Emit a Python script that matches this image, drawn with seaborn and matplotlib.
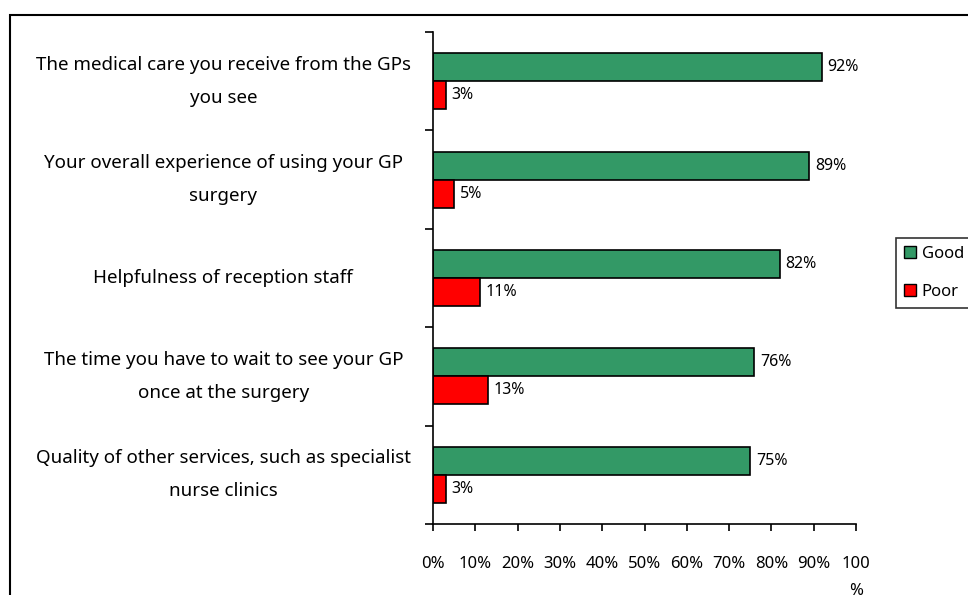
import pandas as pd
import matplotlib.pyplot as plt
import seaborn as sns
from matplotlib.patches import Rectangle

questions = [
    'The medical care you receive from the GPs\nyou see',
    'Your overall experience of using your GP\nsurgery',
    'Helpfulness of reception staff',
    'The time you have to wait to see your GP\nonce at the surgery',
    'Quality of other services, such as specialist\nnurse clinics',
]
good = [92, 89, 82, 76, 75]
poor = [3, 5, 11, 13, 3]
ratings = ['Good', 'Poor']
colours = ['#339966', '#ff0000']
xticks = [0, 10, 20, 30, 40, 50, 60, 70, 80, 90, 100]
xtick_labels = ['0%', '10%', '20%', '30%', '40%', '50%', '60%', '70%', '80%', '90%', '100\n%']

df = pd.DataFrame({
    'question': questions * 2,
    'rating': ['Good'] * len(questions) + ['Poor'] * len(questions),
    'value': good + poor,
})

sns.set_style('white')
plt.rcParams['font.family'] = ['Noto Sans', 'DejaVu Sans']
plt.rcParams['text.color'] = 'black'
plt.rcParams['xtick.color'] = 'black'
plt.rcParams['ytick.color'] = 'black'

fig = plt.figure(figsize=(9.68, 5.95), dpi=100)
ax = fig.add_axes([433 / 968, 1 - 524 / 595, 423 / 968, 492 / 595])

sns.barplot(data=df, y='question', x='value', hue='rating', hue_order=ratings,
            palette=colours, orient='h', width=0.57, order=questions,
            edgecolor='black', linewidth=1.2, saturation=1, ax=ax, legend=False)

for cont in ax.containers:
    ax.bar_label(cont, fmt='{:.0f}%', padding=4, fontsize=11.5)

ax.set_xlim(0, 100)
ax.set_ylim(4.5, -0.5)
ax.set_xticks(xticks)
ax.set_xticklabels(xtick_labels, fontsize=12, va='top', linespacing=1.95)

# ticks between categories, labels centred on each category
ax.set_yticks([i - 0.5 for i in range(len(questions) + 1)])
ax.set_yticklabels([])
ax.set_yticks(range(len(questions)), minor=True)
ax.set_yticklabels(questions, minor=True, fontsize=13.5, ha='center', va='center', linespacing=2.05)
ax.tick_params(axis='y', which='minor', length=0, pad=151)
ax.tick_params(axis='y', which='major', direction='out', length=6, width=1.2, left=True)
ax.tick_params(axis='x', which='major', direction='out', length=5, width=1.2, bottom=True, pad=18)
ax.set_xlabel('')
ax.set_ylabel('')
for s in ['top', 'right']:
    ax.spines[s].set_visible(False)
for s in ['left', 'bottom']:
    ax.spines[s].set_color('black')
    ax.spines[s].set_linewidth(1.2)

# legend
handles = [Rectangle((0, 0), 1, 1, facecolor=c, edgecolor='black', linewidth=1) for c in colours]
leg = fig.legend(handles, ratings, loc='upper left', bbox_to_anchor=(896 / 968, 1 - 238 / 595),
                 fontsize=12, frameon=True, fancybox=False, handlelength=0.75, handleheight=0.75,
                 handletextpad=0.35, labelspacing=1.35, borderpad=0.45, borderaxespad=0)
leg.get_frame().set_edgecolor('black')
leg.get_frame().set_linewidth(1.2)

# outer chart frame
fig.patches.append(Rectangle((10 / 968, -0.1), 1.2, 1.1 - 15 / 595, transform=fig.transFigure,
                             fill=False, edgecolor='black', linewidth=1.5))

fig.savefig('out.png', dpi=100)
